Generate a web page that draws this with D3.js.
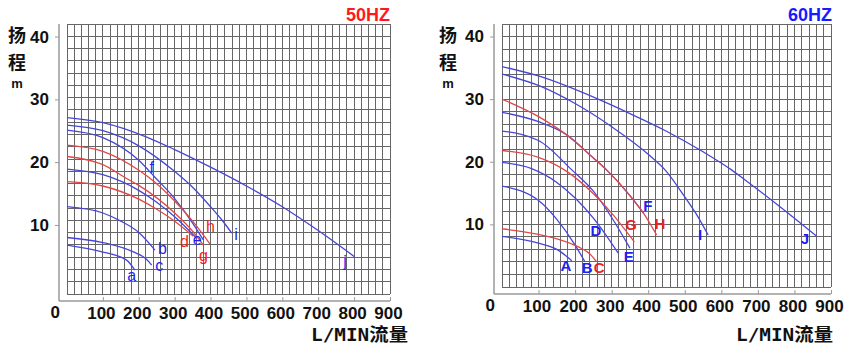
<!DOCTYPE html>
<html>
<head>
<meta charset="utf-8">
<script src="https://cdn.jsdelivr.net/npm/d3@7"></script>
<style>
  body { margin: 0; background: #fff; }
  svg { display: block; }
  text { font-family: Arial, "Liberation Sans", sans-serif; }
</style>
</head>
<body>
<svg id="chart" width="851" height="354"></svg>
<script>
const xTicks = [100, 200, 300, 400, 500, 600, 700, 800, 900];
const yTicks = [10, 20, 30, 40];

// 50HZ curves : [flow L/min, head m]
const a50 = [[0, 6.8], [92, 5.8], [166, 4.4], [189, 2.8]];
const b50 = [[0, 12.9], [100, 11.9], [150, 10.6], [200, 8.8], [245, 6.0]];
const c50 = [[0, 8.0], [100, 7.2], [185, 5.7], [220, 4.6], [236, 3.6]];
const d50 = [[0, 16.9], [100, 16.2], [200, 14.1], [250, 12.5], [300, 10.6], [352, 8.2]];
const e50 = [[0, 18.9], [100, 18.0], [200, 15.5], [250, 13.6], [300, 11.3], [361, 7.9]];
const f50 = [[0, 25.1], [100, 23.9], [200, 20.3], [245, 17.6], [300, 14.2], [350, 10.3], [380, 7.6]];
const g50 = [[0, 20.9], [100, 19.6], [166, 17.4], [200, 16.3], [300, 11.9], [350, 9.0], [380, 6.8]];
const h50 = [[0, 22.7], [100, 21.7], [200, 18.7], [245, 16.8], [300, 13.8], [350, 10.6], [398, 7.0]];
const i50 = [[0, 25.9], [100, 25.0], [200, 22.6], [296, 18.7], [350, 16.0], [400, 12.9], [430, 10.9], [459, 8.7]];
const j50 = [[0, 27.1], [100, 26.3], [222, 24.0], [300, 22.0], [400, 19.2], [500, 16.2], [600, 12.9], [700, 9.1], [802, 4.9]];
const names50 = ["a", "b", "c", "d", "e", "f", "g", "h", "i", "j"];

// 60HZ curves
const A60 = [[0, 8.1], [100, 7.0], [150, 6.0], [191, 4.2]];
const B60 = [[0, 16.1], [100, 13.8], [150, 10.8], [200, 6.7], [227, 4.0]];
const C60 = [[0, 9.3], [100, 8.4], [150, 7.7], [209, 6.4], [240, 5.3], [259, 4.0]];
const D60 = [[0, 19.9], [81, 18.9], [150, 16.7], [200, 14.2], [250, 11.0], [318, 5.4]];
const E60 = [[0, 24.9], [100, 23.4], [191, 18.7], [250, 15.3], [300, 11.1], [350, 6.2]];
const F60 = [[0, 27.9], [100, 26.4], [172, 24.5], [250, 20.6], [286, 18.7], [350, 14.6], [387, 11.8]];
const G60 = [[0, 21.8], [100, 20.7], [181, 18.3], [250, 14.9], [300, 11.8], [362, 7.2]];
const H60 = [[0, 30.0], [100, 27.2], [172, 24.5], [250, 20.6], [286, 18.7], [350, 14.6], [387, 11.8], [423, 8.3]];
const I60 = [[0, 34.0], [108, 32.0], [200, 29.3], [300, 25.6], [400, 21.2], [446, 18.7], [500, 14.4], [530, 11.8], [564, 8.3]];
const J60 = [[0, 35.2], [100, 33.7], [263, 30.0], [350, 27.7], [446, 25.0], [550, 21.6], [628, 18.7], [665, 17.1], [750, 13.3], [861, 8.1]];
const names60 = ["A", "B", "C", "D", "E", "F", "G", "H", "I", "J"];

const blue = "#4646d6", red = "#e04848";
const blueText = "#1f1ff0", redText = "#f01f1f";

const svg = d3.select("#chart");

// label anchor points, in data units
const labelAt50 = { a: [180, 1.75], b: [266, 6.1], c: [257, 3.35], d: [327, 7.2], e: [363, 7.4],
  f: [236, 19.0], g: [380, 5.0], h: [400, 9.5], i: [471, 8.2], j: [775, 4.0] };
const labelAt60 = { A: [175, 3.15], B: [233, 2.9], C: [266, 2.8], D: [257, 8.7], E: [347, 4.6],
  F: [399, 12.8], G: [353, 9.7], H: [432, 9.9], I: [542, 8.1], J: [829, 7.5] };

const panels = [
  { curves: [a50, b50, c50, d50, e50, f50, g50, h50, i50, j50], names: names50, reds: ["d", "g", "h"],
    labelAt: labelAt50, labelSize: 16, labelWeight: "normal",
    title: "50HZ", titleColor: "#ff1a1a", titleRight: 390, unitRight: 408,
    left: 67, right: 390, top: 24, bottom: 294, yMin: -1, hLines: 22,
    axisX: 59, axisY: 301, tickLabelY: 319, yTitleX: 17 },
  { curves: [A60, B60, C60, D60, E60, F60, G60, H60, I60, J60], names: names60, reds: ["C", "G", "H"],
    labelAt: labelAt60, labelSize: 15, labelWeight: "bold",
    title: "60HZ", titleColor: "#1a1aff", titleRight: 832, unitRight: 833,
    left: 502, right: 831, top: 24, bottom: 287, yMin: 0, hLines: 21,
    axisX: 494, axisY: 294, tickLabelY: 312, yTitleX: 448 }
];

panels.forEach(drawPanel);

function drawPanel(p) {
  const g = svg.append("g");
  const x = d3.scaleLinear().domain([0, 900]).range([p.left, p.right]);
  const y = d3.scaleLinear().domain([p.yMin, 42]).range([p.bottom, p.top]);

  // grid
  const grid = g.append("g").attr("stroke", "#666").attr("stroke-width", 1)
    .attr("shape-rendering", "crispEdges");
  grid.selectAll(".v").data(d3.range(0, 901, 20)).join("line")
    .attr("x1", d => x(d)).attr("x2", d => x(d))
    .attr("y1", y(42)).attr("y2", y(p.yMin));
  grid.selectAll(".h").data(d3.range(p.hLines + 1).map(i => 42 - i * (42 - p.yMin) / p.hLines)).join("line")
    .attr("x1", x(0)).attr("x2", x(900))
    .attr("y1", d => y(d)).attr("y2", d => y(d));

  // axes
  const axisColor = "#9a9a9a";
  g.append("line").attr("x1", p.axisX).attr("x2", p.axisX)
    .attr("y1", y(42)).attr("y2", p.axisY)
    .attr("stroke", axisColor).attr("stroke-width", 1.5);
  g.append("line").attr("x1", p.axisX).attr("x2", x(900))
    .attr("y1", p.axisY).attr("y2", p.axisY)
    .attr("stroke", axisColor).attr("stroke-width", 1.5);

  const xAxis = g.append("g").attr("transform", `translate(0,${p.axisY})`)
    .call(d3.axisTop(x).tickValues(xTicks).tickSize(4).tickSizeOuter(0).tickFormat(d3.format("d")));
  xAxis.select(".domain").remove();
  xAxis.selectAll("line").attr("stroke", axisColor);
  xAxis.selectAll("text").attr("y", p.tickLabelY - p.axisY).attr("dy", 0)
    .attr("fill", "#111").attr("font-size", 17).attr("font-weight", "bold").attr("dx", -2);

  const yAxis = g.append("g").attr("transform", `translate(${p.axisX},0)`)
    .call(d3.axisLeft(y).tickValues(yTicks).tickSize(4).tickSizeOuter(0).tickPadding(6));
  yAxis.select(".domain").remove();
  yAxis.selectAll("line").attr("stroke", axisColor);
  yAxis.selectAll("text").attr("fill", "#111").attr("font-size", 17).attr("font-weight", "bold");

  g.append("text").attr("x", p.axisX + 1).attr("y", p.tickLabelY - 1)
    .attr("text-anchor", "end").attr("font-size", 17).attr("font-weight", "bold").attr("fill", "#111")
    .text("0");

  // axis titles
  const yt = g.append("g").attr("font-weight", "bold").attr("fill", "#111").attr("text-anchor", "middle");
  yt.append("text").attr("x", p.yTitleX).attr("y", 42).attr("font-size", 18)
    .style("font-family", "'Noto Sans CJK SC', sans-serif").text("扬");
  yt.append("text").attr("x", p.yTitleX).attr("y", 69).attr("font-size", 18)
    .style("font-family", "'Noto Sans CJK SC', sans-serif").text("程");
  yt.append("text").attr("x", p.yTitleX).attr("y", 88).attr("font-size", 13).text("m");

  g.append("text").attr("x", p.unitRight).attr("y", 341)
    .attr("text-anchor", "end").attr("font-size", 18).attr("font-weight", "bold").attr("fill", "#111")
    .attr("textLength", 97).attr("lengthAdjust", "spacingAndGlyphs")
    .style("font-family", "'DejaVu Sans Mono', 'Noto Sans CJK SC', monospace")
    .text("L/MIN流量");

  g.append("text").attr("x", p.titleRight).attr("y", 21)
    .attr("text-anchor", "end").attr("font-size", 19).attr("font-weight", "bold")
    .attr("fill", p.titleColor).attr("textLength", 44).attr("lengthAdjust", "spacingAndGlyphs")
    .text(p.title);

  // curves
  const line = d3.line().x(d => x(d[0])).y(d => y(d[1])).curve(d3.curveMonotoneX);
  const series = p.curves.map((pts, k) => ({ name: p.names[k], pts, isRed: p.reds.includes(p.names[k]) }));
  g.append("g").attr("fill", "none").attr("stroke-width", 1.3)
    .selectAll("path").data(series).join("path")
    .attr("stroke", d => d.isRed ? red : blue)
    .attr("d", d => line(d.pts));

  g.append("g").attr("text-anchor", "middle").attr("dominant-baseline", "middle")
    .attr("font-size", p.labelSize).attr("font-weight", p.labelWeight)
    .selectAll("text").data(series).join("text")
    .attr("x", d => x(p.labelAt[d.name][0]))
    .attr("y", d => y(p.labelAt[d.name][1]))
    .attr("fill", d => d.isRed ? redText : blueText)
    .text(d => d.name);
}
</script>
</body>
</html>
